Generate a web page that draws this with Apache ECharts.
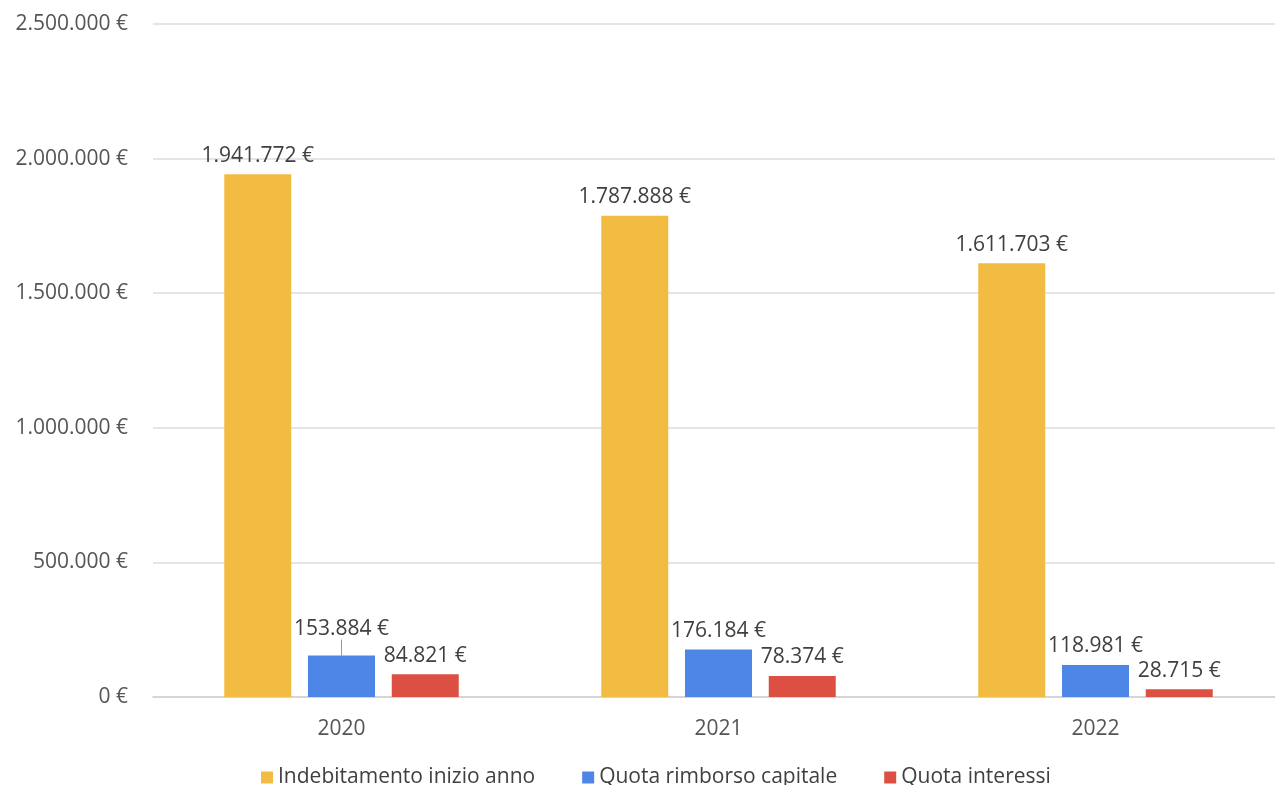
<!DOCTYPE html>
<html lang="it">
<head>
    <meta charset="utf-8"/>
    <title>Indebitamento</title>
    <script src="https://cdn.jsdelivr.net/npm/echarts@6/dist/echarts.min.js"></script>
    <style>
        * { margin: 0; padding: 0; }
        html, body { width: 100%; height: 100%; background: #fff; overflow: hidden; }
        /* il grafico originale è tagliato a destra: il contenitore è un po' più largo */
        #main { width: 1284px; height: 785px; }
    </style>
</head>
<body>
<div id="main"></div>
<script>
    // dati
    var anni = ['2020', '2021', '2022'];
    var indebitamento = [1941772, 1787888, 1611703];
    var rimborsoCapitale = [153884, 176184, 118981];
    var interessi = [84821, 78374, 28715];
    var nomiSerie = ['Indebitamento inizio anno', 'Quota rimborso capitale', 'Quota interessi'];

    var FONT = '"Open Sans", "Noto Sans", sans-serif';

    function euro(v) {
        return String(Math.round(v)).replace(/\B(?=(\d{3})+(?!\d))/g, '.') + ' €';
    }

    var labelBase = {
        show: true,
        position: 'top',
        distance: 8,
        color: '#404040',
        fontSize: 21,
        fontFamily: FONT,
        formatter: function (p) { return euro(p.value); }
    };

    // la prima etichetta blu è spostata in alto con una linea di richiamo
    var datiRimborso = rimborsoCapitale.map(function (v, i) {
        if (i === 0) {
            return { value: v, labelLine: { show: true, lineStyle: { color: '#999', width: 1 } } };
        }
        return v;
    });

    var chart = echarts.init(document.getElementById('main'));
    chart.setOption({
        animation: false,
        backgroundColor: '#fff',
        grid: { left: 153, right: 0, top: 24, bottom: 88 },
        legend: {
            top: 762,
            left: 256,
            itemWidth: 12,
            itemHeight: 12,
            itemGap: 47,
            icon: 'rect',
            textStyle: { color: '#404040', fontSize: 21, fontFamily: FONT },
            data: nomiSerie
        },
        xAxis: {
            type: 'category',
            data: anni,
            axisTick: { show: false },
            axisLine: { lineStyle: { color: '#cfcfcf', width: 1.5 } },
            axisLabel: { color: '#555', fontSize: 21, fontFamily: FONT, margin: 22 }
        },
        yAxis: {
            type: 'value',
            min: 0,
            max: 2500000,
            interval: 500000,
            axisLine: { show: false },
            axisTick: { show: false },
            splitLine: { lineStyle: { color: '#dcdcdc', width: 1.5 } },
            axisLabel: { color: '#555', fontSize: 21, fontFamily: FONT, margin: 25, formatter: euro }
        },
        series: [
            {
                name: nomiSerie[0],
                type: 'bar',
                data: indebitamento,
                barWidth: 67,
                barGap: '25%',
                itemStyle: { color: '#F2BC42' },
                label: labelBase
            },
            {
                name: nomiSerie[1],
                type: 'bar',
                data: datiRimborso,
                barWidth: 67,
                barGap: '25%',
                itemStyle: { color: '#4E86E8' },
                label: labelBase,
                labelLine: { show: false },
                labelLayout: function (p) {
                    return p.dataIndex === 0 ? { dy: -8 } : {};
                }
            },
            {
                name: nomiSerie[2],
                type: 'bar',
                data: interessi,
                barWidth: 67,
                barGap: '25%',
                itemStyle: { color: '#DB5043' },
                label: labelBase
            }
        ]
    });
</script>
</body>
</html>
